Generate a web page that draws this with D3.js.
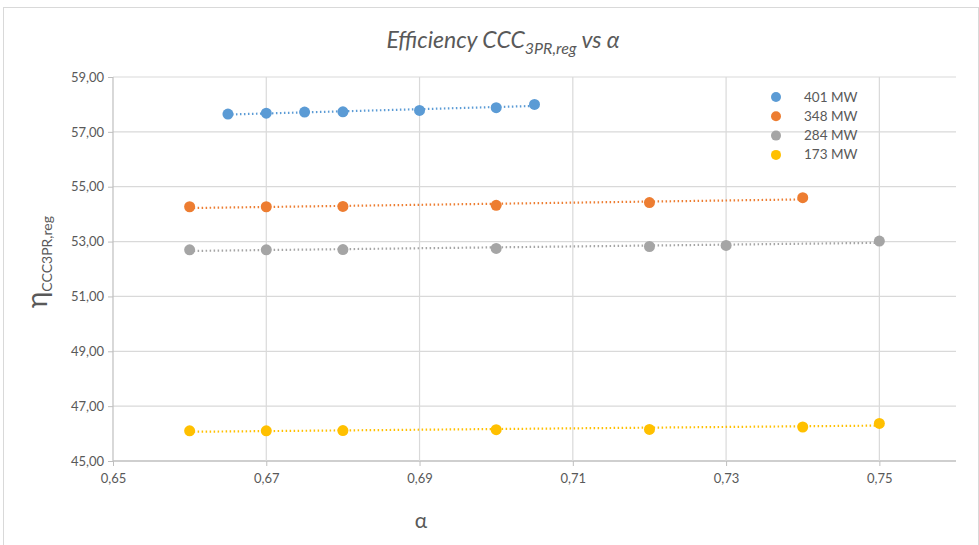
<!DOCTYPE html>
<html><head><meta charset="utf-8">
<script src="https://cdn.jsdelivr.net/npm/d3@7"></script>
<style>body{margin:0;background:#fff;} text{font-family:Lato,"Open Sans",sans-serif;}</style>
</head><body>
<svg id="c" width="979" height="545"></svg>
<script>
const seriesNames = ["401 MW","348 MW","284 MW","173 MW"];
const colors = ["#5B9BD5","#ED7D31","#A5A5A5","#FFC000"];
const x401 = [0.665,0.67,0.675,0.68,0.69,0.70,0.705];
const y401 = [57.65,57.68,57.72,57.73,57.78,57.88,58.00];
const x348 = [0.66,0.67,0.68,0.70,0.72,0.74];
const y348 = [54.27,54.27,54.28,54.32,54.42,54.60];
const x284 = [0.66,0.67,0.68,0.70,0.72,0.73,0.75];
const y284 = [52.70,52.70,52.71,52.75,52.82,52.86,53.02];
const x173 = [0.66,0.67,0.68,0.70,0.72,0.74,0.75];
const y173 = [46.10,46.10,46.11,46.14,46.15,46.24,46.37];
const xTicks = [0.65,0.67,0.69,0.71,0.73,0.75];
const yTicks = [45,47,49,51,53,55,57,59];

const svg = d3.select("#c");
const L=113, R=956, T=77, B=461;
const x = d3.scaleLinear().domain([0.65,0.76]).range([L,R]);
const y = d3.scaleLinear().domain([45,59]).range([B,T]);
const fmt2 = v => d3.format(".2f")(v).replace(".",",");

svg.append("rect").attr("x",3.5).attr("y",7.5).attr("width",975).attr("height",545)
  .attr("fill","none").attr("stroke","#D9D9D9");

// gridlines
svg.append("g").selectAll("line").data(yTicks).join("line")
  .attr("x1",L).attr("x2",R).attr("y1",d=>y(d)).attr("y2",d=>y(d))
  .attr("stroke",(d)=>d===45?"#BFBFBF":"#D9D9D9").attr("stroke-width",d=>d===45?1.5:1.2);
svg.append("g").selectAll("line").data(xTicks).join("line")
  .attr("x1",d=>x(d)).attr("x2",d=>x(d)).attr("y1",T).attr("y2",B)
  .attr("stroke",d=>d===0.65?"#BFBFBF":"#D9D9D9").attr("stroke-width",1.2);

// axes
const gx = svg.append("g").attr("transform",`translate(0,${B})`)
  .call(d3.axisBottom(x).tickValues(xTicks).tickFormat(v=>d3.format(".2f")(v).replace(".",",")).tickSize(5).tickPadding(8));
const gy = svg.append("g").attr("transform",`translate(${L},0)`)
  .call(d3.axisLeft(y).tickValues(yTicks).tickFormat(fmt2).tickSize(5).tickPadding(4));
[gx,gy].forEach(g=>{
  g.select(".domain").remove();
  g.selectAll(".tick line").attr("stroke","#BFBFBF");
  g.selectAll(".tick text").attr("fill","#595959").style("font-size","13px").style("font-family","Lato,'Open Sans',sans-serif");
});

const data = [[x401,y401],[x348,y348],[x284,y284],[x173,y173]];
data.forEach(([xs,ys],i)=>{
  // linear trendline (least squares)
  const n=xs.length, mx=d3.mean(xs), my=d3.mean(ys);
  let sxy=0,sxx=0; for(let k=0;k<n;k++){sxy+=(xs[k]-mx)*(ys[k]-my); sxx+=(xs[k]-mx)**2;}
  const b=sxy/sxx, a=my-b*mx;
  const x0=d3.min(xs), x1=d3.max(xs);
  svg.append("line").attr("x1",x(x0)).attr("x2",x(x1)).attr("y1",y(a+b*x0)).attr("y2",y(a+b*x1))
    .attr("stroke",colors[i]).attr("stroke-width",2.2).attr("stroke-dasharray","1.5,2.5");
  svg.append("g").selectAll("circle").data(xs.map((v,k)=>[v,ys[k]])).join("circle")
    .attr("cx",d=>x(d[0])).attr("cy",d=>y(d[1])).attr("r",5.5).attr("fill",colors[i]);
});

// legend
const lg = svg.append("g");
seriesNames.forEach((s,i)=>{
  const yy = 97+i*19.3;
  lg.append("circle").attr("cx",776).attr("cy",yy).attr("r",5).attr("fill",colors[i]);
  lg.append("text").attr("x",804).attr("y",yy+4.5).attr("fill","#595959").style("font-size","13.5px").text(s);
});

// title
const t = svg.append("text").attr("x",503).attr("y",48).attr("text-anchor","middle")
  .attr("fill","#595959").style("font-size","23px").style("font-style","italic");
t.append("tspan").text("Efficiency CCC");
t.append("tspan").attr("dy",6).style("font-size","16px").text("3PR,reg");
t.append("tspan").attr("dy",-6).text(" vs α");

// y label
const yl = svg.append("text").attr("transform","translate(47,308) rotate(-90)")
  .attr("fill","#595959").style("font-size","28px");
yl.append("tspan").text("η");
yl.append("tspan").attr("dy",5).style("font-size","14px").text("CCC3PR,reg");

// x label
svg.append("text").attr("x",421).attr("y",528).attr("text-anchor","middle")
  .attr("fill","#595959").style("font-size","21px").text("α");
</script>
</body></html>
